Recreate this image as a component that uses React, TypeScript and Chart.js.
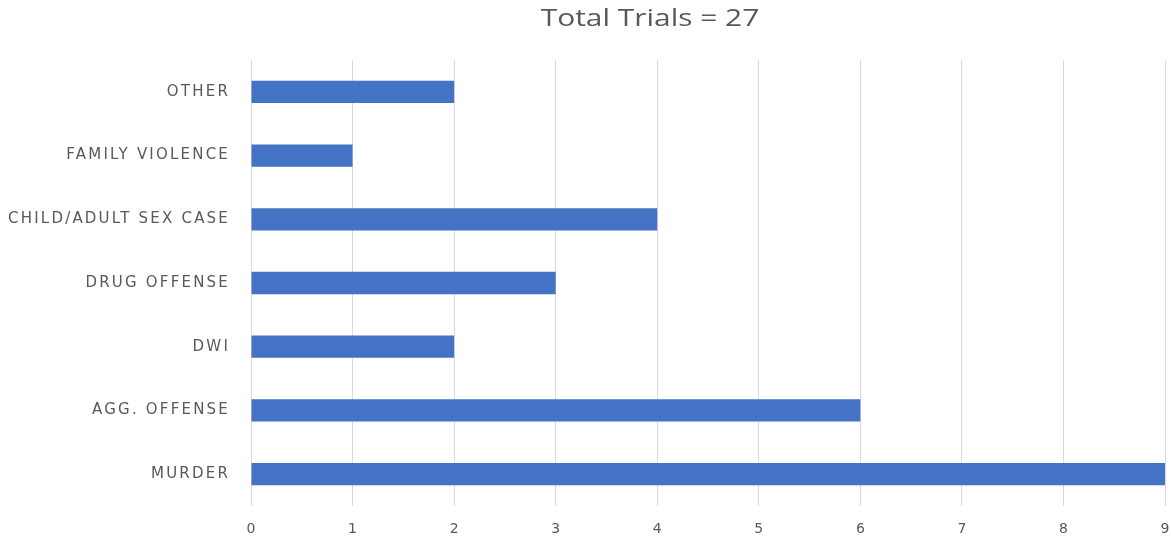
import React, { useEffect, useRef } from "react";
import { Chart, registerables } from "chart.js";

Chart.register(...registerables);

const categories = [
  "OTHER",
  "FAMILY VIOLENCE",
  "CHILD/ADULT SEX CASE",
  "DRUG OFFENSE",
  "DWI",
  "AGG. OFFENSE",
  "MURDER",
];
const trials = [2, 1, 4, 3, 2, 6, 9];
const titleText = "Total Trials = 27";
const xMin = 0;
const xMax = 9;

const titlePlugin = {
  id: "customTitle",
  beforeDraw(chart: any) {
    const ctx = chart.ctx as any;
    ctx.letterSpacing = "2.2px";
  },
  beforeDatasetsDraw(chart: any) {
    const ctx = chart.ctx as any;
    ctx.letterSpacing = "0px";
  },
  afterDraw(chart: any) {
    const ctx = chart.ctx;
    ctx.save();
    ctx.font = "23px 'Open Sans'";
    ctx.fillStyle = "#595959";
    ctx.textAlign = "center";
    ctx.textBaseline = "middle";
    ctx.translate(650, 19);
    ctx.scale(1.3, 1);
    ctx.fillText(titleText, 0, 0);
    ctx.restore();
  },
};

export default function App() {
  const ref = useRef<HTMLCanvasElement>(null);
  useEffect(() => {
    if (!ref.current) return;
    const chart = new Chart(ref.current, {
      type: "bar",
      data: {
        labels: categories,
        datasets: [
          {
            data: trials,
            backgroundColor: "#4472C4",
            categoryPercentage: 1,
            barPercentage: 0.35,
          },
        ],
      },
      plugins: [titlePlugin],
      options: {
        indexAxis: "y",
        animation: false,
        responsive: false,
        layout: { padding: { top: 60, right: 6, left: 0, bottom: 0 } },
        plugins: {
          legend: { display: false },
          title: { display: false },
          tooltip: { enabled: false },
        },
        scales: {
          x: {
            min: xMin,
            max: xMax,
            ticks: {
              stepSize: 1,
              padding: 15,
              labelOffset: 1.1,
              color: "#595959",
              font: { family: "'DejaVu Sans'", size: 14 },
            },
            grid: { color: "#D9D9D9", drawTicks: false, lineWidth: 1 },
            border: { display: false },
            afterFit(scale: any) {
              scale.height = 31;
              scale.paddingRight = 0;
              scale.paddingLeft = 0;
            },
          },
          y: {
            ticks: {
              padding: 21,
              color: "#595959",
              font: { family: "'DejaVu Sans'", size: 15 },
            },
            grid: { display: false, drawTicks: false },
            border: { display: false },
            afterFit(scale: any) {
              scale.width = 251;
            },
          },
        },
      },
    });
    return () => chart.destroy();
  }, []);
  return (
    <div style={{ position: "fixed", left: 0, top: 0, width: 1171, height: 537, background: "#fff" }}>
      <canvas ref={ref} width={1171} height={537} style={{ width: 1171, height: 537 }} />
    </div>
  );
}
